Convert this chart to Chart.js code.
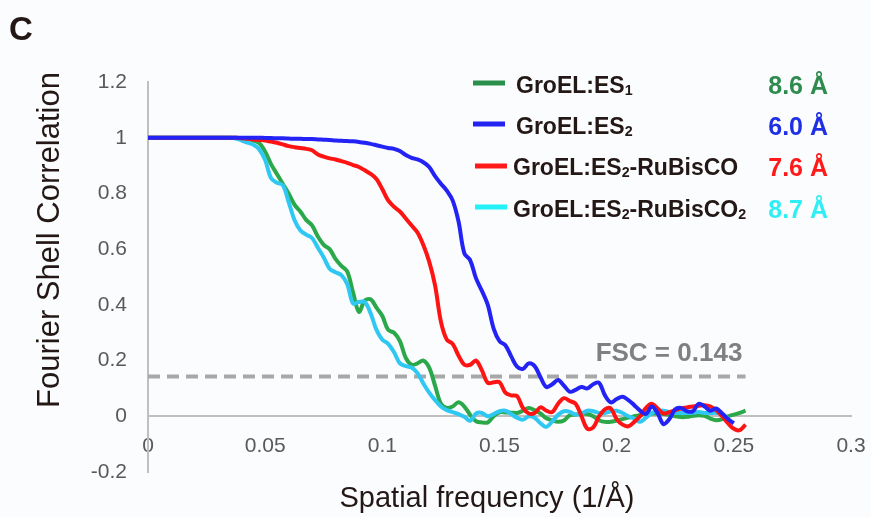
<!DOCTYPE html>
<html>
<head>
<meta charset="utf-8">
<title>Fourier Shell Correlation</title>
<script src="https://cdn.jsdelivr.net/npm/chart.js@4.4.1/dist/chart.umd.min.js"></script>
<style>
  body { margin: 0; background: #fbfcfe; }
  #wrap {
    position: relative; width: 871px; height: 517px; overflow: hidden;
    font-family: "Liberation Sans", Arial, sans-serif; color: #231815;
  }
  #wrap canvas { position: absolute; left: 0; top: 0; }
  .txt { position: absolute; white-space: nowrap; line-height: 1; }
  .mid { transform: translate(-50%, -50%); }
  .row { transform: translateY(-50%); font-weight: bold; font-size: 23px; }
  .val { transform: translate(-100%, -50%); font-weight: bold; font-size: 25px; }
  .sw  { position: absolute; width: 32px; height: 5px; transform: translateY(-50%); }
  sub  { font-size: 0.62em; vertical-align: -0.2em; line-height: 0; }
</style>
</head>
<body>
<div id="wrap">
  <canvas id="fsc-chart" width="871" height="517"></canvas>

  <div class="txt" style="left:9px; top:12px; font-size:33px; font-weight:bold;">C</div>
  <div class="txt mid" style="left:48px; top:240px; font-size:31px; transform:translate(-50%,-50%) rotate(-90deg);">Fourier Shell Correlation</div>
  <div class="txt mid" style="left:487px; top:497px; font-size:29px;">Spatial frequency (1/Å)</div>
  <div class="txt mid" style="left:669px; top:352px; font-size:26px; font-weight:bold; color:#808080;">FSC = 0.143</div>

  <!-- legend -->
  <div class="sw" style="left:473px; top:83px;  background:#2b8f4c;"></div>
  <div class="sw" style="left:473px; top:124px; background:#2323f2;"></div>
  <div class="sw" style="left:475px; top:166px; background:#ff1a1a;"></div>
  <div class="sw" style="left:475px; top:207px; background:#22f2f7;"></div>

  <div class="txt row" style="left:516px; top:85px;">GroEL:ES<sub>1</sub></div>
  <div class="txt row" style="left:516px; top:126px;">GroEL:ES<sub>2</sub></div>
  <div class="txt row" style="left:513px; top:167px;">GroEL:ES<sub>2</sub>-RuBisCO</div>
  <div class="txt row" style="left:513px; top:209px;">GroEL:ES<sub>2</sub>-RuBisCO<sub>2</sub></div>

  <div class="txt val" style="left:828px; top:85px;  color:#2e8b4e;">8.6 Å</div>
  <div class="txt val" style="left:828px; top:126px; color:#1f2fe6;">6.0 Å</div>
  <div class="txt val" style="left:828px; top:167px; color:#ff1a1a;">7.6 Å</div>
  <div class="txt val" style="left:828px; top:209px; color:#30eef5;">8.7 Å</div>
</div>

<script>
'use strict';

// ── Data ───────────────────────────────────────────────────────────────────

const xTickLabels = ['0', '0.05', '0.1', '0.15', '0.2', '0.25', '0.3'];
const yTickLabels = ['-0.2', '0', '0.2', '0.4', '0.6', '0.8', '1', '1.2'];

// spatial frequency (1/Å), one shell every 0.0025
const freq = [
  0, 0.0025, 0.005, 0.0075, 0.01, 0.0125, 0.015, 0.0175, 0.02, 0.0225,
  0.025, 0.0275, 0.03, 0.0325, 0.035, 0.0375, 0.04, 0.0425, 0.045, 0.0475,
  0.05, 0.0525, 0.055, 0.0575, 0.06, 0.0625, 0.065, 0.0675, 0.07, 0.0725,
  0.075, 0.0775, 0.08, 0.0825, 0.085, 0.0875, 0.09, 0.0925, 0.095, 0.0975,
  0.1, 0.1025, 0.105, 0.1075, 0.11, 0.1125, 0.115, 0.1175, 0.12, 0.1225,
  0.125, 0.1275, 0.13, 0.1325, 0.135, 0.1375, 0.14, 0.1425, 0.145, 0.1475,
  0.15, 0.1525, 0.155, 0.1575, 0.16, 0.1625, 0.165, 0.1675, 0.17, 0.1725,
  0.175, 0.1775, 0.18, 0.1825, 0.185, 0.1875, 0.19, 0.1925, 0.195, 0.1975,
  0.2, 0.2025, 0.205, 0.2075, 0.21, 0.2125, 0.215, 0.2175, 0.22, 0.2225,
  0.225, 0.2275, 0.23, 0.2325, 0.235, 0.2375, 0.24, 0.2425, 0.245, 0.2475,
  0.25, 0.2525, 0.255
];

const fscES1 = [
  1, 1, 1, 1, 1, 1, 1, 1, 1, 1,
  1, 1, 1, 1, 1, 1, 0.998, 0.995, 0.99, 0.98,
  0.95, 0.905, 0.87, 0.835, 0.80, 0.76, 0.735, 0.705, 0.685, 0.645,
  0.615, 0.60, 0.565, 0.54, 0.52, 0.445, 0.375, 0.415, 0.42, 0.39,
  0.36, 0.31, 0.30, 0.27, 0.21, 0.185, 0.19, 0.20, 0.175, 0.11,
  0.045, 0.03, 0.035, 0.05, 0.035, 0.005, -0.018, -0.022, -0.022, 0.0,
  0.014, 0.014, 0.013, 0.012, 0.02, 0.03, 0.022, 0.01, -0.007, -0.015,
  -0.02, -0.015, 0.004, 0.006, 0.01, 0.008, 0.0, -0.014, -0.02, -0.02,
  -0.015, -0.01, -0.005, 0.0, 0.004, 0.01, 0.01, 0.01, 0.008, 0.005,
  0.0, -0.003, -0.002, 0.002, 0.004, 0.002, -0.008, -0.014, -0.01, 0.0,
  0.006, 0.012, 0.02
];

const fscES2 = [
  1, 1, 1, 1, 1, 1, 1, 1, 1, 1,
  1, 1, 1, 1, 1, 1, 1, 1, 1, 1,
  0.999, 0.999, 0.998, 0.998, 0.997, 0.996, 0.996, 0.995, 0.995, 0.994,
  0.993, 0.992, 0.99, 0.989, 0.988, 0.987, 0.985, 0.982, 0.978, 0.973,
  0.968, 0.963, 0.96, 0.952, 0.938, 0.928, 0.922, 0.912, 0.895, 0.862,
  0.835, 0.81, 0.775, 0.70, 0.585, 0.56, 0.495, 0.45, 0.40, 0.315,
  0.27, 0.255, 0.215, 0.178, 0.17, 0.19, 0.18, 0.14, 0.105, 0.115,
  0.13, 0.11, 0.088, 0.095, 0.105, 0.10, 0.115, 0.12, 0.075, 0.05,
  0.062, 0.07, 0.058, 0.04, 0.02, 0.008, 0.035, 0.01, -0.028, -0.01,
  0.025, 0.03, 0.018, 0.018, 0.045, 0.035, 0.02, 0.028, 0.01, -0.01,
  -0.025
];

const fscES2Rub = [
  1, 1, 1, 1, 1, 1, 1, 1, 1, 1,
  1, 1, 1, 1, 1, 1, 0.998, 0.996, 0.994, 0.992,
  0.99, 0.986, 0.982, 0.976, 0.97, 0.966, 0.963, 0.96, 0.955, 0.94,
  0.932, 0.926, 0.922, 0.916, 0.91, 0.902, 0.895, 0.883, 0.87, 0.852,
  0.815, 0.775, 0.752, 0.735, 0.71, 0.685, 0.66, 0.615, 0.555, 0.47,
  0.34, 0.275, 0.26, 0.218, 0.185, 0.185, 0.20, 0.165, 0.12, 0.122,
  0.122, 0.085, 0.075, 0.072, 0.03, 0.01, 0.012, 0.032, 0.02, 0.015,
  0.045, 0.065, 0.055, 0.045, 0.0, -0.045, -0.04, 0.0, 0.025, 0.028,
  -0.01, -0.03, -0.036, -0.02, 0.0, 0.03, 0.045, 0.028, 0.01, 0.015,
  0.022, 0.028, 0.032, 0.035, 0.038, 0.04, 0.035, 0.022, 0.0, -0.025,
  -0.045, -0.05, -0.03
];

const fscES2Rub2 = [
  1, 1, 1, 1, 1, 1, 1, 1, 1, 1,
  1, 1, 1, 1, 1, 0.997, 0.99, 0.982, 0.975, 0.958,
  0.92, 0.855, 0.838, 0.83, 0.77, 0.705, 0.668, 0.652, 0.64, 0.605,
  0.57, 0.53, 0.517, 0.507, 0.475, 0.405, 0.41, 0.41, 0.37, 0.31,
  0.275, 0.26, 0.23, 0.19, 0.18, 0.175, 0.155, 0.118, 0.085, 0.058,
  0.035, 0.022, 0.015, 0.008, -0.002, -0.016, 0.01, 0.012, 0.0, 0.008,
  0.018, 0.02, 0.008, -0.005, -0.012, 0.0, -0.005, -0.025, -0.038, -0.018,
  0.005, 0.018, 0.016, 0.006, 0.01, 0.02, 0.018, 0.012, 0.012, 0.018,
  0.02, 0.012, 0.0, -0.008, -0.02, -0.005, 0.012, 0.02, 0.02, 0.015,
  0.012, 0.012, 0.012, 0.013, 0.015, 0.012, 0.012, 0.012, 0.008, -0.007
];

// 0.143 threshold, drawn across the measured range
const thresholdX = [0, 0.255];
const thresholdY = [0.143, 0.143];

// ── Helpers ────────────────────────────────────────────────────────────────

function pairs(xs, ys) {
  return ys.map((y, i) => ({ x: xs[i], y: y }));
}

function curve(label, values, color) {
  return {
    label: label,
    data: pairs(freq, values),
    borderColor: color,
    borderWidth: 4,
    pointRadius: 0,
    tension: 0.35,
    fill: false,
  };
}

const tickFont = { family: '"Liberation Sans", Arial, sans-serif', size: 21 };

// ── Chart ──────────────────────────────────────────────────────────────────

new Chart(document.getElementById('fsc-chart').getContext('2d'), {
  type: 'line',
  data: {
    datasets: [
      curve('GroEL:ES2', fscES2, '#2323f5'),
      curve('GroEL:ES2-RuBisCO', fscES2Rub, '#ff1414'),
      curve('GroEL:ES2-RuBisCO2', fscES2Rub2, '#2ec8f2'),
      curve('GroEL:ES1', fscES1, '#2aa84a'),
      {
        label: 'FSC = 0.143',
        data: pairs(thresholdX, thresholdY),
        borderColor: '#a8a8a8',
        borderWidth: 4,
        borderDash: [12, 7],
        pointRadius: 0,
        fill: false,
      }
    ]
  },
  options: {
    responsive: false,
    animation: false,
    layout: { padding: { top: 82, right: 20, bottom: 45, left: 0 } },
    plugins: {
      legend: { display: false },
      tooltip: { enabled: false },
    },
    scales: {
      x: {
        type: 'linear',
        position: { y: 0 },
        min: 0, max: 0.3,
        grid: { display: false, drawTicks: false },
        border: { color: '#bfbfbf', width: 2 },
        ticks: {
          stepSize: 0.05, padding: 17, color: '#595959', font: tickFont,
          maxRotation: 0, autoSkip: false,
          callback: (v, i) => xTickLabels[i],
        },
        // labels may overhang the plot edge, as in the figure
        afterFit: scale => { scale.paddingLeft = 0; scale.paddingRight = 0; },
      },
      y: {
        type: 'linear',
        min: -0.2, max: 1.2,
        grid: { display: false, drawTicks: false },
        border: { color: '#bfbfbf', width: 2 },
        ticks: {
          stepSize: 0.2, padding: 21, color: '#595959', font: tickFont,
          callback: (v, i) => yTickLabels[i],
        },
        afterFit: scale => { scale.width = 148; },
      }
    }
  }
});
</script>
</body>
</html>
